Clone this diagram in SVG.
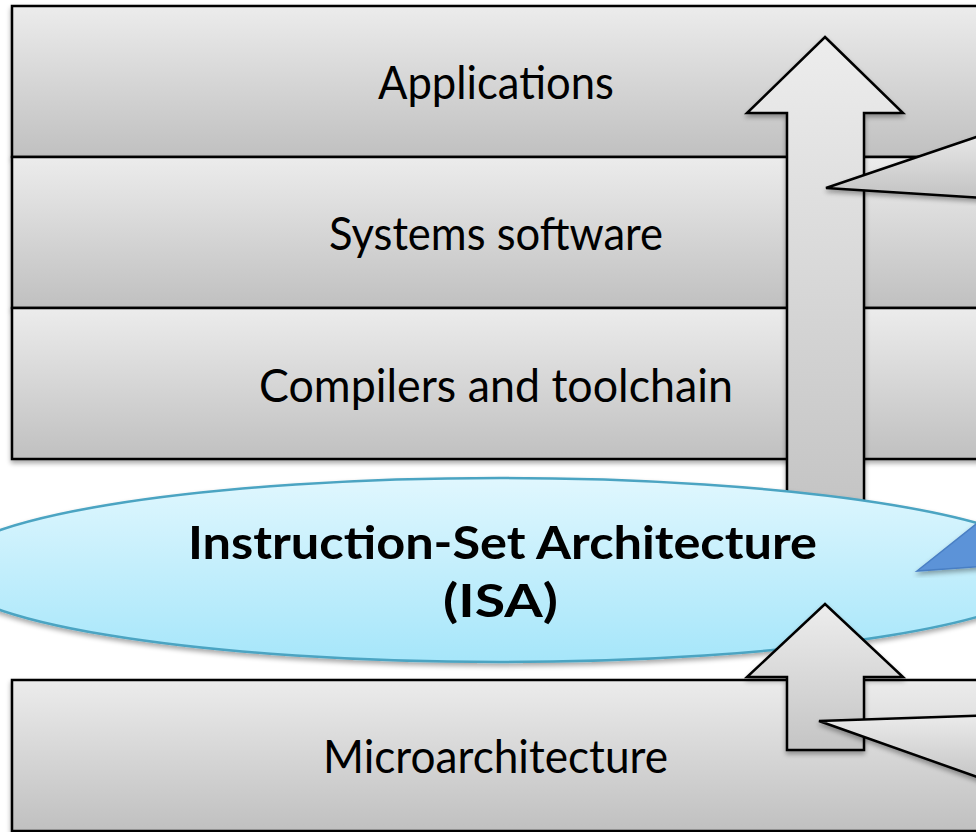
<svg xmlns="http://www.w3.org/2000/svg" width="976" height="832" viewBox="0 0 976 832">
<defs>
<linearGradient id="gBox" x1="0" y1="0" x2="0" y2="1">
<stop offset="0" stop-color="#ececec"/><stop offset="1" stop-color="#c0c0c0"/>
</linearGradient>
<linearGradient id="gIsa" x1="0" y1="0" x2="0" y2="1">
<stop offset="0" stop-color="#e0f7fe"/><stop offset="1" stop-color="#a6e6fa"/>
</linearGradient>
<linearGradient id="gArrow" x1="0" y1="0" x2="0" y2="1">
<stop offset="0" stop-color="#ededed"/><stop offset="1" stop-color="#c4c4c4"/>
</linearGradient>
<linearGradient id="gArrow2" x1="0" y1="0" x2="0" y2="1">
<stop offset="0" stop-color="#ebebeb"/><stop offset="1" stop-color="#c2c2c2"/>
</linearGradient>
<filter id="sh" x="-5%" y="-5%" width="110%" height="115%">
<feGaussianBlur in="SourceAlpha" stdDeviation="2.5"/>
<feOffset dx="0" dy="3" result="b"/>
<feComponentTransfer><feFuncA type="linear" slope="0.35"/></feComponentTransfer>
<feMerge><feMergeNode/><feMergeNode in="SourceGraphic"/></feMerge>
</filter>
</defs>
<style>
.box{fill:url(#gBox);stroke:#000;stroke-width:2.5}
.lbl{font-family:"Gill Sans","Lato","Liberation Sans",sans-serif;font-size:46px;fill:#000;text-anchor:middle}
.bold{font-weight:bold}
.arr{fill:url(#gArrow);stroke:#000;stroke-width:2.5;stroke-linejoin:miter}
.call{fill:url(#gArrow2);stroke:#000;stroke-width:2.5}
</style>
<rect width="976" height="832" fill="#fff"/>
<g id="applications">
<rect class="box" filter="url(#sh)" x="12" y="6" width="990" height="151"/>
<text class="lbl" x="496" y="99" textLength="236" lengthAdjust="spacingAndGlyphs">Applications</text>
</g>
<g id="systems-software">
<rect class="box" filter="url(#sh)" x="12" y="157" width="990" height="151"/>
<text class="lbl" x="496" y="250" textLength="334" lengthAdjust="spacingAndGlyphs">Systems software</text>
</g>
<g id="compilers">
<rect class="box" filter="url(#sh)" x="12" y="308" width="990" height="151"/>
<text class="lbl" x="496" y="402" textLength="474" lengthAdjust="spacingAndGlyphs">Compilers and toolchain</text>
</g>
<g id="microarchitecture">
<rect class="box" filter="url(#sh)" x="12" y="680" width="990" height="151"/>
<text class="lbl" x="495.5" y="773" textLength="345" lengthAdjust="spacingAndGlyphs">Microarchitecture</text>
</g>
<g id="connectors">
<polygon class="arr" filter="url(#sh)" points="825,37 903,113 864,113 864,509 787,509 787,113 747,113"/>
</g>
<g id="isa">
<ellipse filter="url(#sh)" cx="500" cy="570" rx="555" ry="92" fill="url(#gIsa)" stroke="#4ba4c2" stroke-width="2.5"/>
<text class="lbl bold" x="502.5" y="559" textLength="629" lengthAdjust="spacingAndGlyphs">Instruction-Set Architecture</text>
<text class="lbl bold" x="500.5" y="617" textLength="115" lengthAdjust="spacingAndGlyphs">(ISA)</text>
</g>
<g id="connectors-2">
<polygon class="arr" filter="url(#sh)" points="825,604 903,677 864,677 864,750 787,750 787,677 747,677"/>
<polygon class="call" filter="url(#sh)" points="826,188 1000,129 1000,199"/>
<polygon filter="url(#sh)" points="917,571 1000,505 1000,565" fill="#5b93d8" stroke="#4a7fc4" stroke-width="1.5"/>
<polygon class="call" filter="url(#sh)" points="819,721 1000,715 1000,785"/>
</g>
</svg>
